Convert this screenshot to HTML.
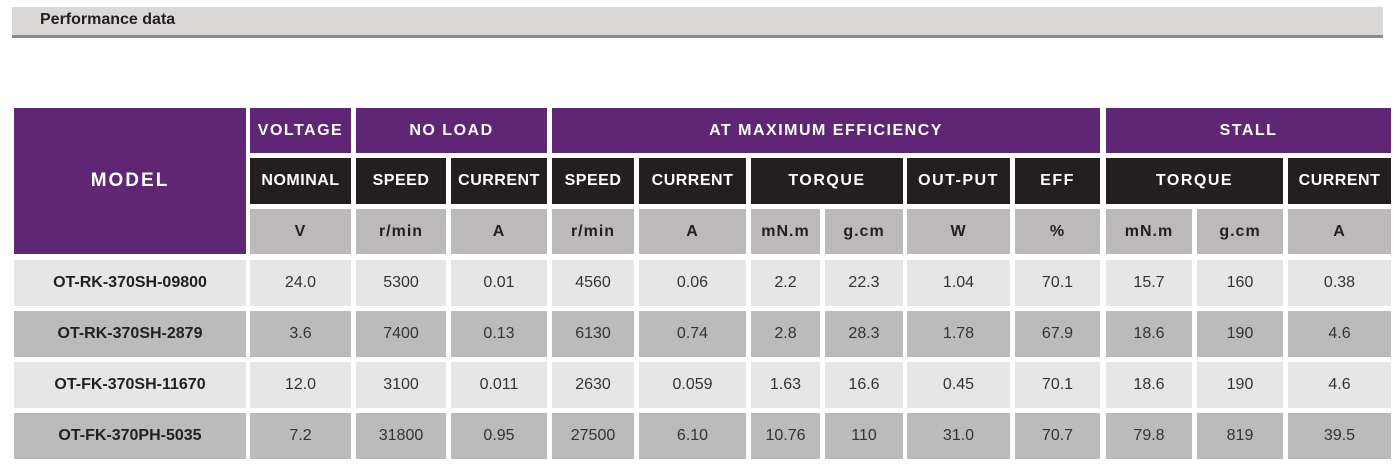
<!DOCTYPE html>
<html><head><meta charset="utf-8"><style>
body{margin:0;width:1393px;height:466px;background:#fff;position:relative;overflow:hidden;font-family:"Liberation Sans",sans-serif}
.c{position:absolute;display:flex;align-items:center;justify-content:center;box-sizing:border-box;white-space:nowrap}
.p{background:#5e2675;color:#fff;font-weight:bold;font-size:16px;letter-spacing:1.5px}
.b{background:#231f20;color:#fff;font-weight:bold;font-size:16px;letter-spacing:.5px}
.g{background:#bbb9ba;color:#231f20;font-weight:bold;font-size:16px;letter-spacing:1px}
.l{background:#e6e6e6;color:#333;font-size:16px}
.d{background:#bcbbbb;color:#333;font-size:16px}
.m{font-weight:bold;color:#231f20;font-size:16px}
</style></head><body>
<div style="position:absolute;left:12px;top:7px;width:1371px;height:29px;background:#dad9d7"></div>
<div style="position:absolute;left:12px;top:35px;width:1371px;height:3px;background:#8a8a8a"></div>
<div style="position:absolute;left:40px;top:11px;font-weight:bold;font-size:16px;color:#231f20">Performance data</div>

<div class="c p" style="left:14px;top:108px;width:232px;height:146px;font-size:19px;letter-spacing:2px">MODEL</div>
<div class="c p" style="left:250px;top:108px;width:101px;height:45px">VOLTAGE</div>
<div class="c p" style="left:356px;top:108px;width:191px;height:45px">NO LOAD</div>
<div class="c p" style="left:552px;top:108px;width:548px;height:45px">AT MAXIMUM EFFICIENCY</div>
<div class="c p" style="left:1106px;top:108px;width:285px;height:45px">STALL</div>

<div class="c b" style="left:250px;top:158px;width:101px;height:46px">NOMINAL</div>
<div class="c b" style="left:356px;top:158px;width:90px;height:46px">SPEED</div>
<div class="c b" style="left:451px;top:158px;width:96px;height:46px">CURRENT</div>
<div class="c b" style="left:552px;top:158px;width:82px;height:46px">SPEED</div>
<div class="c b" style="left:639px;top:158px;width:107px;height:46px">CURRENT</div>
<div class="c b" style="left:751px;top:158px;width:152px;height:46px;letter-spacing:1.5px">TORQUE</div>
<div class="c b" style="left:907px;top:158px;width:103px;height:46px;letter-spacing:1.5px">OUT-PUT</div>
<div class="c b" style="left:1015px;top:158px;width:85px;height:46px;letter-spacing:1.5px">EFF</div>
<div class="c b" style="left:1106px;top:158px;width:177px;height:46px;letter-spacing:1.5px">TORQUE</div>
<div class="c b" style="left:1288px;top:158px;width:103px;height:46px">CURRENT</div>

<div class="c g" style="left:250px;top:209px;width:101px;height:45px">V</div>
<div class="c g" style="left:356px;top:209px;width:90px;height:45px">r/min</div>
<div class="c g" style="left:451px;top:209px;width:96px;height:45px">A</div>
<div class="c g" style="left:552px;top:209px;width:82px;height:45px">r/min</div>
<div class="c g" style="left:639px;top:209px;width:107px;height:45px">A</div>
<div class="c g" style="left:751px;top:209px;width:69px;height:45px">mN.m</div>
<div class="c g" style="left:825px;top:209px;width:78px;height:45px">g.cm</div>
<div class="c g" style="left:907px;top:209px;width:103px;height:45px">W</div>
<div class="c g" style="left:1015px;top:209px;width:85px;height:45px">%</div>
<div class="c g" style="left:1106px;top:209px;width:86px;height:45px">mN.m</div>
<div class="c g" style="left:1197px;top:209px;width:86px;height:45px">g.cm</div>
<div class="c g" style="left:1288px;top:209px;width:103px;height:45px">A</div>

<!-- row 1 -->
<div class="c l m" style="left:14px;top:260px;width:232px;height:46px">OT-RK-370SH-09800</div>
<div class="c l" style="left:250px;top:260px;width:101px;height:46px">24.0</div>
<div class="c l" style="left:356px;top:260px;width:90px;height:46px">5300</div>
<div class="c l" style="left:451px;top:260px;width:96px;height:46px">0.01</div>
<div class="c l" style="left:552px;top:260px;width:82px;height:46px">4560</div>
<div class="c l" style="left:639px;top:260px;width:107px;height:46px">0.06</div>
<div class="c l" style="left:751px;top:260px;width:69px;height:46px">2.2</div>
<div class="c l" style="left:825px;top:260px;width:78px;height:46px">22.3</div>
<div class="c l" style="left:907px;top:260px;width:103px;height:46px">1.04</div>
<div class="c l" style="left:1015px;top:260px;width:85px;height:46px">70.1</div>
<div class="c l" style="left:1106px;top:260px;width:86px;height:46px">15.7</div>
<div class="c l" style="left:1197px;top:260px;width:86px;height:46px">160</div>
<div class="c l" style="left:1288px;top:260px;width:103px;height:46px">0.38</div>
<!-- row 2 -->
<div class="c d m" style="left:14px;top:311px;width:232px;height:46px">OT-RK-370SH-2879</div>
<div class="c d" style="left:250px;top:311px;width:101px;height:46px">3.6</div>
<div class="c d" style="left:356px;top:311px;width:90px;height:46px">7400</div>
<div class="c d" style="left:451px;top:311px;width:96px;height:46px">0.13</div>
<div class="c d" style="left:552px;top:311px;width:82px;height:46px">6130</div>
<div class="c d" style="left:639px;top:311px;width:107px;height:46px">0.74</div>
<div class="c d" style="left:751px;top:311px;width:69px;height:46px">2.8</div>
<div class="c d" style="left:825px;top:311px;width:78px;height:46px">28.3</div>
<div class="c d" style="left:907px;top:311px;width:103px;height:46px">1.78</div>
<div class="c d" style="left:1015px;top:311px;width:85px;height:46px">67.9</div>
<div class="c d" style="left:1106px;top:311px;width:86px;height:46px">18.6</div>
<div class="c d" style="left:1197px;top:311px;width:86px;height:46px">190</div>
<div class="c d" style="left:1288px;top:311px;width:103px;height:46px">4.6</div>
<!-- row 3 -->
<div class="c l m" style="left:14px;top:362px;width:232px;height:46px">OT-FK-370SH-11670</div>
<div class="c l" style="left:250px;top:362px;width:101px;height:46px">12.0</div>
<div class="c l" style="left:356px;top:362px;width:90px;height:46px">3100</div>
<div class="c l" style="left:451px;top:362px;width:96px;height:46px">0.011</div>
<div class="c l" style="left:552px;top:362px;width:82px;height:46px">2630</div>
<div class="c l" style="left:639px;top:362px;width:107px;height:46px">0.059</div>
<div class="c l" style="left:751px;top:362px;width:69px;height:46px">1.63</div>
<div class="c l" style="left:825px;top:362px;width:78px;height:46px">16.6</div>
<div class="c l" style="left:907px;top:362px;width:103px;height:46px">0.45</div>
<div class="c l" style="left:1015px;top:362px;width:85px;height:46px">70.1</div>
<div class="c l" style="left:1106px;top:362px;width:86px;height:46px">18.6</div>
<div class="c l" style="left:1197px;top:362px;width:86px;height:46px">190</div>
<div class="c l" style="left:1288px;top:362px;width:103px;height:46px">4.6</div>
<!-- row 4 -->
<div class="c d m" style="left:14px;top:413px;width:232px;height:46px">OT-FK-370PH-5035</div>
<div class="c d" style="left:250px;top:413px;width:101px;height:46px">7.2</div>
<div class="c d" style="left:356px;top:413px;width:90px;height:46px">31800</div>
<div class="c d" style="left:451px;top:413px;width:96px;height:46px">0.95</div>
<div class="c d" style="left:552px;top:413px;width:82px;height:46px">27500</div>
<div class="c d" style="left:639px;top:413px;width:107px;height:46px">6.10</div>
<div class="c d" style="left:751px;top:413px;width:69px;height:46px">10.76</div>
<div class="c d" style="left:825px;top:413px;width:78px;height:46px">110</div>
<div class="c d" style="left:907px;top:413px;width:103px;height:46px">31.0</div>
<div class="c d" style="left:1015px;top:413px;width:85px;height:46px">70.7</div>
<div class="c d" style="left:1106px;top:413px;width:86px;height:46px">79.8</div>
<div class="c d" style="left:1197px;top:413px;width:86px;height:46px">819</div>
<div class="c d" style="left:1288px;top:413px;width:103px;height:46px">39.5</div>
</body></html>
